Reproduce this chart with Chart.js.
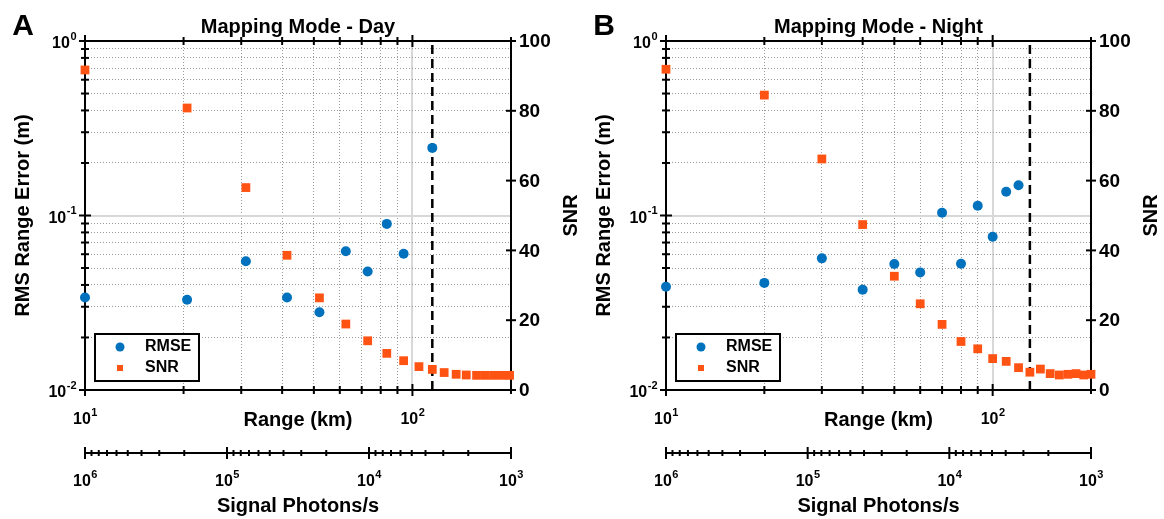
<!DOCTYPE html>
<html>
<head>
<meta charset="utf-8">
<script src="https://cdn.jsdelivr.net/npm/chart.js@4"></script>
<style>
  body { margin: 0; background: #fff; }
  canvas { position: absolute; top: 0; }
  #dayChart { left: 0; }
  #nightChart { left: 582px; }
</style>
</head>
<body>
<canvas id="dayChart" width="582" height="519"></canvas>
<canvas id="nightChart" width="582" height="519"></canvas>
<script>
// values
const dayRange = [10, 20.5, 31, 41.4, 52, 62.6, 73, 83.5, 94, 104.7, 115, 125, 136, 146, 157, 167, 177, 188, 198];
const daySnr = [91.7, 80.8, 58.0, 38.6, 26.4, 18.9, 14.1, 10.5, 8.4, 6.7, 5.9, 5.0, 4.5, 4.3, 4.2, 4.2, 4.2, 4.2, 4.2];
const dayRmse = [0.0339, 0.0329, 0.0547, 0.0339, 0.0279, 0.0624, 0.0478, 0.0895, 0.0603, null, 0.244,
  null, null, null, null, null, null, null, null];
const dayCutoff = 115;

const nightRange = [10, 20, 30, 40, 50, 60, 70, 80, 90, 100, 110, 120, 130, 140, 150, 160, 170, 180, 190, 200];
const nightSnr = [91.9, 84.5, 66.2, 47.4, 32.6, 24.7, 18.8, 13.9, 11.8, 9.0, 8.2, 6.4, 5.1, 6.0, 4.7, 4.3, 4.5, 4.7, 4.3, 4.5];
const nightRmse = [0.0391, 0.0411, 0.0568, 0.0376, 0.0527, 0.0472, 0.1037, 0.0529, 0.1137, 0.0756, 0.1368, 0.149,
  null, null, null, null, null, null, null, null];
const nightCutoff = 130;

// axes
const rangeGrid = [20, 30, 40, 50, 60, 70, 80, 90, 100];
const rangeTicks = [10, 20, 30, 40, 50, 60, 70, 80, 90, 100, 200];
const rangeLabels = [10, 100];
const rmseGrid = [0.02, 0.03, 0.04, 0.05, 0.06, 0.07, 0.08, 0.09, 0.1, 0.2, 0.3, 0.4, 0.5, 0.6, 0.7, 0.8, 0.9];
const rmseTicks = [0.01, 0.02, 0.03, 0.04, 0.05, 0.06, 0.07, 0.08, 0.09, 0.1, 0.2, 0.3, 0.4, 0.5, 0.6, 0.7, 0.8, 0.9, 1];
const rmseLabels = [1, 0.1, 0.01];
const snrTicks = [0, 20, 40, 60, 80, 100];
const photonTicks = [1e3, 2e3, 3e3, 4e3, 5e3, 6e3, 7e3, 8e3, 9e3,
  1e4, 2e4, 3e4, 4e4, 5e4, 6e4, 7e4, 8e4, 9e4,
  1e5, 2e5, 3e5, 4e5, 5e5, 6e5, 7e5, 8e5, 9e5, 1e6];
const photonLabels = [1e6, 1e5, 1e4, 1e3];

const FONT = '"Liberation Sans", Arial, Helvetica, sans-serif';
const BLUE = "#0072BD";
const ORANGE = "#FF5314";
const DOT = "#9a9a9a";
const SOLID = "#d8d8d8";

function pts(xs, ys) {
  const out = [];
  xs.forEach(function (x, i) {
    if (ys[i] !== null) out.push({ x: x, y: ys[i] });
  });
  return out;
}

// "10" with raised exponent
function drawPow(ctx, value, x, y, align) {
  const exp = String(Math.round(Math.log10(value)));
  ctx.font = "bold 16px " + FONT;
  const wb = ctx.measureText("10").width;
  ctx.font = "bold 11px " + FONT;
  const we = ctx.measureText(exp).width;
  const x0 = align === "right" ? x - wb - we : x - (wb + we) / 2;
  ctx.textAlign = "left";
  ctx.textBaseline = "middle";
  ctx.font = "bold 16px " + FONT;
  ctx.fillText("10", x0, y);
  ctx.font = "bold 11px " + FONT;
  ctx.fillText(exp, x0 + wb + 0.5, y - 7.5);
}

function seg(ctx, x0, y0, x1, y1) {
  ctx.beginPath();
  ctx.moveTo(x0, y0);
  ctx.lineTo(x1, y1);
  ctx.stroke();
}

// MATLAB-like box, ticks, labels and legend
const matlabAxes = {
  id: "matlabAxes",
  beforeDatasetsDraw(chart) {
    const ctx = chart.ctx;
    const a = chart.chartArea;
    const sx = chart.scales.x, sy = chart.scales.y, sy1 = chart.scales.y1;
    ctx.save();
    ctx.strokeStyle = "#000";
    ctx.lineWidth = 2;
    ctx.strokeRect(a.left, a.top, a.right - a.left, a.bottom - a.top);
    rangeTicks.forEach(function (v) {
      const p = sx.getPixelForValue(v);
      const n = rangeLabels.includes(v) ? 6 : 4;
      seg(ctx, p, a.bottom - n, p, a.bottom + n);
      seg(ctx, p, a.top - n, p, a.top + n);
    });
    rmseTicks.forEach(function (v) {
      const p = sy.getPixelForValue(v);
      const n = rmseLabels.includes(v) ? 6 : 4;
      seg(ctx, a.left - n, p, a.left + n, p);
    });
    snrTicks.forEach(function (v) {
      const p = sy1.getPixelForValue(v);
      seg(ctx, a.right - 5, p, a.right + 5, p);
    });
    ctx.restore();
  },
  afterDraw(chart, args, opts) {
    const ctx = chart.ctx;
    const a = chart.chartArea;
    const sx = chart.scales.x, sy = chart.scales.y, sy1 = chart.scales.y1, sx2 = chart.scales.x2;
    const midX = (a.left + a.right) / 2;
    const midY = (a.top + a.bottom) / 2;
    ctx.save();
    ctx.strokeStyle = "#000";
    ctx.fillStyle = "#000";
    ctx.lineWidth = 2;

    // photon axis
    const yb = sx2.top;
    seg(ctx, a.left, yb, a.right, yb);
    photonTicks.forEach(function (v) {
      const p = sx2.getPixelForValue(v);
      const n = photonLabels.includes(v) ? 6 : 3;
      seg(ctx, p, yb - n, p, yb + n);
    });
    photonLabels.forEach(function (v) {
      drawPow(ctx, v, sx2.getPixelForValue(v), yb + 29, "center");
    });

    // tick labels
    rangeLabels.forEach(function (v) {
      drawPow(ctx, v, sx.getPixelForValue(v), a.bottom + 30, "center");
    });
    rmseLabels.forEach(function (v) {
      drawPow(ctx, v, a.left - 9, sy.getPixelForValue(v) + 3, "right");
    });
    ctx.font = "bold 19px " + FONT;
    ctx.textAlign = "left";
    ctx.textBaseline = "middle";
    snrTicks.forEach(function (v) {
      ctx.fillText(String(v), a.right + 8, sy1.getPixelForValue(v) + 1);
    });

    // axis titles
    ctx.font = "bold 20px " + FONT;
    ctx.textAlign = "center";
    ctx.textBaseline = "middle";
    ctx.fillText("Range (km)", midX, a.bottom + 30);
    ctx.fillText("Signal Photons/s", midX, yb + 53);
    ctx.save();
    ctx.translate(a.left - 62, midY);
    ctx.rotate(-Math.PI / 2);
    ctx.fillText("RMS Range Error (m)", 0, 0);
    ctx.restore();
    ctx.save();
    ctx.translate(a.right + 60, midY);
    ctx.rotate(-Math.PI / 2);
    ctx.fillText("SNR", 0, 0);
    ctx.restore();

    ctx.textBaseline = "alphabetic";
    ctx.fillText(opts.title, midX, 33);
    ctx.font = "bold 30px " + FONT;
    ctx.fillText(opts.letter, a.left - 62, 35);

    // legend
    const lx = a.left + 10, ly = a.bottom - 56;
    ctx.fillStyle = "#fff";
    ctx.fillRect(lx, ly, 104, 47);
    ctx.strokeRect(lx, ly, 104, 47);
    ctx.fillStyle = BLUE;
    ctx.beginPath();
    ctx.arc(lx + 25, ly + 13, 4.5, 0, 2 * Math.PI);
    ctx.fill();
    ctx.fillStyle = ORANGE;
    ctx.fillRect(lx + 22, ly + 31, 6, 6);
    ctx.fillStyle = "#000";
    ctx.font = "bold 16px " + FONT;
    ctx.textAlign = "left";
    ctx.textBaseline = "middle";
    ctx.fillText("RMSE", lx + 50, ly + 13);
    ctx.fillText("SNR", lx + 50, ly + 34);
    ctx.restore();
  },
};

function isMajor(c, v) {
  return c.tick && c.tick.value === v;
}

function makePanel(id, range, rmse, snr, cutoff, title, letter, leftW, rightW) {
  return new Chart(document.getElementById(id), {
    type: "scatter",
    data: {
      datasets: [
        {
          label: "RMSE",
          data: pts(range, rmse),
          xAxisID: "x",
          yAxisID: "y",
          pointStyle: "circle",
          pointRadius: 5,
          pointBorderWidth: 0,
          backgroundColor: BLUE,
          borderColor: BLUE,
          clip: false,
        },
        {
          label: "SNR",
          data: pts(range, snr),
          xAxisID: "x",
          yAxisID: "y1",
          pointStyle: "rect",
          pointRadius: 6.2,
          pointBorderWidth: 0,
          backgroundColor: ORANGE,
          borderColor: ORANGE,
          clip: false,
        },
        {
          type: "line",
          label: "cutoff",
          data: [{ x: cutoff, y: 0.01 }, { x: cutoff, y: 1 }],
          xAxisID: "x",
          yAxisID: "y",
          borderColor: "#000",
          borderWidth: 2.5,
          borderDash: [9, 5],
          pointRadius: 0,
          showLine: true,
        },
      ],
    },
    options: {
      responsive: false,
      animation: false,
      events: [],
      layout: { padding: { top: 41, left: 0, right: 0, bottom: 0 } },
      plugins: {
        legend: { display: false },
        tooltip: { enabled: false },
        matlabAxes: { title: title, letter: letter },
      },
      scales: {
        x: {
          type: "logarithmic",
          position: "bottom",
          weight: 0,
          min: 10,
          max: 200,
          afterBuildTicks: function (s) { s.ticks = rangeGrid.map(function (v) { return { value: v }; }); },
          afterFit: function (s) { s.height = 63; },
          ticks: { display: false },
          grid: {
            drawTicks: false,
            color: function (c) { return isMajor(c, 100) ? SOLID : DOT; },
            lineWidth: function (c) { return isMajor(c, 100) ? 2 : 1; },
          },
          border: { display: false, dash: function (c) { return isMajor(c, 100) ? [] : [1, 2]; } },
        },
        x2: {
          type: "logarithmic",
          position: "bottom",
          weight: 1,
          min: 1e3,
          max: 1e6,
          reverse: true,
          afterFit: function (s) { s.height = 66; },
          ticks: { display: false },
          grid: { display: false, drawTicks: false },
          border: { display: false },
        },
        y: {
          type: "logarithmic",
          position: "left",
          min: 0.01,
          max: 1,
          afterBuildTicks: function (s) { s.ticks = rmseGrid.map(function (v) { return { value: v }; }); },
          afterFit: function (s) { s.width = leftW; },
          ticks: { display: false },
          grid: {
            drawTicks: false,
            color: function (c) { return isMajor(c, 0.1) ? SOLID : DOT; },
            lineWidth: function (c) { return isMajor(c, 0.1) ? 2 : 1; },
          },
          border: { display: false, dash: function (c) { return isMajor(c, 0.1) ? [] : [1, 2]; } },
        },
        y1: {
          type: "linear",
          position: "right",
          min: 0,
          max: 100,
          afterFit: function (s) { s.width = rightW; },
          ticks: { display: false },
          grid: { display: false, drawTicks: false },
          border: { display: false },
        },
      },
    },
    plugins: [matlabAxes],
  });
}

makePanel("dayChart", dayRange, dayRmse, daySnr, dayCutoff, "Mapping Mode - Day", "A", 85, 71);
makePanel("nightChart", nightRange, nightRmse, nightSnr, nightCutoff, "Mapping Mode - Night", "B", 84, 73);
</script>
</body>
</html>
